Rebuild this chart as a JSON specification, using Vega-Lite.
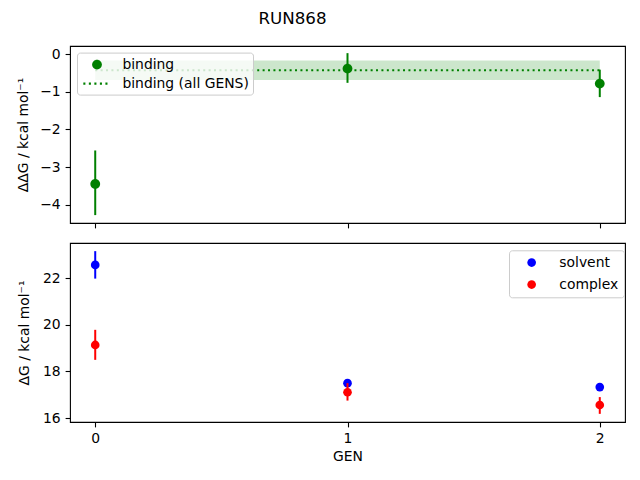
{
  "$schema": "https://vega.github.io/schema/vega-lite/v6.json",
  "padding": {"left": 15, "top": 10, "right": 0, "bottom": 0},
  "title": {
    "text": "RUN868",
    "fontSize": 16.7,
    "fontWeight": "normal",
    "anchor": "middle",
    "dx": -28,
    "offset": 18,
    "color": "black"
  },
  "config": {
    "font": "DejaVu Sans",
    "view": {"stroke": "black", "strokeWidth": 1.1},
    "axis": {
      "grid": false,
      "domain": false,
      "tickColor": "black",
      "tickWidth": 1.1,
      "tickSize": 4.9,
      "labelPadding": 4.9,
      "labelFontSize": 13.9,
      "labelColor": "black",
      "titleFontSize": 13.9,
      "titleFontWeight": "normal",
      "titleColor": "black"
    },
    "legend": {
      "title": null,
      "labelFontSize": 13.9,
      "labelColor": "black",
      "fillColor": "rgba(255,255,255,0.8)",
      "strokeColor": "#cccccc",
      "cornerRadius": 3,
      "orient": "none",
      "symbolOpacity": 1,
      "symbolStrokeWidth": 0
    }
  },
  "datasets": {
    "binding": [
      {"gen": 0, "series": "binding", "dg": -3.45, "lo": -4.28, "hi": -2.56},
      {"gen": 1, "series": "binding", "dg": -0.38, "lo": -0.76, "hi": 0.03},
      {"gen": 2, "series": "binding", "dg": -0.78, "lo": -1.14, "hi": -0.41}
    ],
    "overall": [
      {"gen_start": 0, "gen_end": 2, "dg": -0.425, "lo": -0.685, "hi": -0.165}
    ],
    "legs": [
      {"gen": 0, "series": "solvent", "dg": 22.58, "lo": 21.99, "hi": 23.17},
      {"gen": 1, "series": "solvent", "dg": 17.5, "lo": 17.42, "hi": 17.58},
      {"gen": 2, "series": "solvent", "dg": 17.33, "lo": 17.25, "hi": 17.41},
      {"gen": 0, "series": "complex", "dg": 19.14, "lo": 18.5, "hi": 19.79},
      {"gen": 1, "series": "complex", "dg": 17.11, "lo": 16.75, "hi": 17.5},
      {"gen": 2, "series": "complex", "dg": 16.56, "lo": 16.18, "hi": 16.9}
    ]
  },
  "spacing": 13,
  "vconcat": [
    {
      "width": 555,
      "height": 177,
      "encoding": {
        "x": {
          "type": "quantitative",
          "scale": {"domain": [-0.1, 2.1], "nice": false, "zero": false},
          "axis": {"values": [0, 1, 2], "labels": false, "title": null}
        }
      },
      "layer": [
        {
          "data": {"name": "overall"},
          "mark": {"type": "rect", "color": "green", "opacity": 0.2},
          "encoding": {
            "x": {"field": "gen_start", "type": "quantitative"},
            "x2": {"field": "gen_end"},
            "y": {
              "field": "lo",
              "type": "quantitative",
              "scale": {"domain": [-4.49, 0.22], "nice": false, "zero": false},
              "axis": {
                "values": [-4, -3, -2, -1, 0],
                "title": "ΔΔG / kcal mol⁻¹",
                "titleX": -47,
                "titleBaseline": "middle"
              }
            },
            "y2": {"field": "hi"}
          }
        },
        {
          "data": {"name": "overall"},
          "mark": {"type": "rule", "color": "green", "strokeWidth": 2, "strokeDash": [2, 3.4]},
          "encoding": {
            "x": {"field": "gen_start", "type": "quantitative"},
            "x2": {"field": "gen_end"},
            "y": {"field": "dg", "type": "quantitative"}
          }
        },
        {
          "data": {"name": "binding"},
          "mark": {"type": "rule", "color": "green", "strokeWidth": 2},
          "encoding": {
            "x": {"field": "gen", "type": "quantitative"},
            "y": {"field": "lo", "type": "quantitative"},
            "y2": {"field": "hi"}
          }
        },
        {
          "data": {"name": "binding"},
          "mark": {
            "type": "point",
            "filled": true,
            "size": 256,
            "color": "green",
            "opacity": 1
          },
          "encoding": {
            "x": {"field": "gen", "type": "quantitative"},
            "y": {"field": "dg", "type": "quantitative"},
            "shape": {
              "field": "series",
              "type": "nominal",
              "scale": {
                "domain": ["binding", "binding (all GENS)"],
                "range": [
                  "M0.61,0A0.61,0.61,0,1,1,-0.61,0A0.61,0.61,0,1,1,0.61,0Z",
                  "M-1.71,-0.13L-1.45,-0.13L-1.45,0.13L-1.71,0.13ZM-1.02,-0.13L-0.76,-0.13L-0.76,0.13L-1.02,0.13ZM-0.33,-0.13L-0.07,-0.13L-0.07,0.13L-0.33,0.13ZM0.36,-0.13L0.62,-0.13L0.62,0.13L0.36,0.13ZM1.05,-0.13L1.31,-0.13L1.31,0.13L1.05,0.13Z"
                ]
              },
              "legend": {
                "legendX": 7,
                "legendY": 6.6,
                "padding": 4,
                "rowPadding": 4,
                "symbolSize": 256,
                "symbolOffset": 8,
                "labelOffset": 17.4,
                "symbolFillColor": "green"
              }
            }
          }
        }
      ]
    },
    {
      "width": 555,
      "height": 179,
      "data": {"name": "legs"},
      "encoding": {
        "x": {
          "field": "gen",
          "type": "quantitative",
          "scale": {"domain": [-0.1, 2.1], "nice": false, "zero": false},
          "axis": {"values": [0, 1, 2], "format": "d", "title": "GEN", "titlePadding": 4}
        },
        "color": {
          "field": "series",
          "type": "nominal",
          "scale": {"domain": ["solvent", "complex"], "range": ["blue", "red"]},
          "legend": {
            "legendX": 439,
            "legendY": 204.3,
            "padding": 5.3,
            "rowPadding": 7,
            "symbolSize": 75,
            "symbolOffset": 10.4,
            "labelOffset": 20.7
          }
        }
      },
      "layer": [
        {
          "transform": [{"filter": "datum.series == 'solvent'"}],
          "mark": {"type": "rule", "strokeWidth": 2},
          "encoding": {
            "y": {
              "field": "lo",
              "type": "quantitative",
              "scale": {"domain": [15.83, 23.52], "nice": false, "zero": false},
              "axis": {
                "values": [16, 18, 20, 22],
                "title": "ΔG / kcal mol⁻¹",
                "titleX": -45.5,
                "titleBaseline": "middle"
              }
            },
            "y2": {"field": "hi"}
          }
        },
        {
          "transform": [{"filter": "datum.series == 'solvent'"}],
          "mark": {"type": "point", "filled": true, "size": 75, "opacity": 1},
          "encoding": {"y": {"field": "dg", "type": "quantitative"}}
        },
        {
          "transform": [{"filter": "datum.series == 'complex'"}],
          "mark": {"type": "rule", "strokeWidth": 2},
          "encoding": {
            "y": {"field": "lo", "type": "quantitative"},
            "y2": {"field": "hi"}
          }
        },
        {
          "transform": [{"filter": "datum.series == 'complex'"}],
          "mark": {"type": "point", "filled": true, "size": 75, "opacity": 1},
          "encoding": {"y": {"field": "dg", "type": "quantitative"}}
        }
      ]
    }
  ]
}
